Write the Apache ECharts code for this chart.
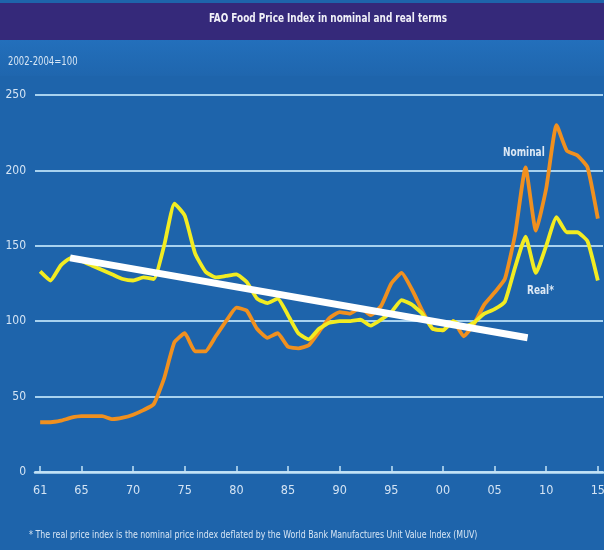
<!DOCTYPE html>
<html><head><meta charset="utf-8">
<script src="https://cdn.jsdelivr.net/npm/echarts@6/dist/echarts.min.js"></script>
<style>html,body{margin:0;padding:0;background:#ffffff}#c{width:608px;height:557px}</style>
</head><body><div id="c"></div>
<script>
const years = [1961,1962,1963,1964,1965,1966,1967,1968,1969,1970,1971,1972,1973,1974,1975,1976,1977,1978,1979,1980,
1981,1982,1983,1984,1985,1986,1987,1988,1989,1990,1991,1992,1993,1994,1995,1996,1997,1998,1999,2000,
2001,2002,2003,2004,2005,2006,2007,2008,2009,2010,2011,2012,2013,2014,2015];
const nominal = [33,33,34,36,37,37,37,35,36,38,41,45,62,86,92,80,80,90,100,109,
107,95,89,92,83,82,84,93,102,106,105,109,104,110,125,132,121,107,95,94,
100,90,98,111,119,128,158,202,160,188,230,213,210,202,168];
const real = [133,127,137,142,140,137,134,131,128,127,129,128,150,178,170,145,133,129,130,131,
126,115,112,115,104,92,88,95,99,100,100,101,97,101,106,114,111,105,95,94,
100,96,99,105,108,113,136,156,132,150,169,159,159,153,127];
const trendX = [1963.9, 2008.2];
const trendY = [142, 89];
const tickYears = [1961,1965,1970,1975,1980,1985,1990,1995,2000,2005,2010,2015];
const tickLabels = ['61','65','70','75','80','85','90','95','00','05','10','15'];

const FONT = '"DejaVu Sans Condensed", "Liberation Sans Narrow", sans-serif';
const chart = echarts.init(document.getElementById('c'), null, {renderer:'canvas'});
const pair = (xs, ys) => xs.map((x,i)=>[x, ys[i]]);
function label(text, x, y, font, sx, align, fill){
  return {type:'text', x:x, y:y, scaleX:sx, z:20,
    style:{text:text, x:0, y:0, align:align, verticalAlign:'middle', fill:fill||'#d6e5f4', font:font}};
}

chart.setOption({
  animation:false,
  backgroundColor:'#ffffff',
  graphic:[
    {type:'rect', z:-10, shape:{x:0,y:0,width:604,height:550}, style:{fill:'#1e64ab'}},
    {type:'rect', z:-9, shape:{x:0,y:3,width:604,height:37}, style:{fill:'#35297a'}},
    {type:'rect', z:-9, shape:{x:0,y:40,width:604,height:36}, style:{fill:new echarts.graphic.LinearGradient(0,0,0,1,[{offset:0,color:'#236fbb'},{offset:1,color:'#1f66ae'}])}},
    label('FAO Food Price Index in nominal and real terms', 328, 19, 'bold 13px '+FONT, 0.76, 'center', '#f0f0f8'),
    label('2002-2004=100', 8, 62, '11.5px '+FONT, 0.82, 'left'),
    label('Nominal', 503, 153, 'bold 12.5px '+FONT, 0.8, 'left', '#dce8f4'),
    label('Real*', 527, 291, 'bold 12.5px '+FONT, 0.8, 'left', '#dce8f4'),
    label('* The real price index is the nominal price index deflated by the World Bank Manufactures Unit Value Index (MUV)', 29, 535, '10px '+FONT, 0.875, 'left')
  ],
  grid:{left:35, right:5, top:95, bottom:85, containLabel:false},
  xAxis:{
    type:'value', min:1960.5, max:2015.5,
    axisLine:{show:true, lineStyle:{color:'#c2e2f6', width:2.5}},
    axisTick:{show:true, inside:true, length:6, customValues:tickYears, lineStyle:{color:'#c2e2f6', width:1.5}},
    axisLabel:{customValues:tickYears, formatter:v=>tickLabels[tickYears.indexOf(v)], color:'#d4e4f4', fontFamily:FONT, fontSize:12.5, margin:12},
    splitLine:{show:false}
  },
  yAxis:{
    type:'value', min:0, max:250, interval:50,
    axisLine:{show:false}, axisTick:{show:false},
    axisLabel:{color:'#d4e4f4', fontFamily:FONT, fontSize:12, margin:9},
    splitLine:{lineStyle:{color:'#a8d2ef', width:2}}
  },
  series:[
    {name:'Nominal', type:'line', data:pair(years,nominal), symbol:'none', smooth:0.15, lineStyle:{color:'#f0901f', width:3.8}, z:3},
    {name:'Real', type:'line', data:pair(years,real), symbol:'none', smooth:0.15, lineStyle:{color:'#f2ec22', width:3.8}, z:4},
    {name:'Trend', type:'line', data:pair(trendX,trendY), symbol:'none', lineStyle:{color:'#ffffff', width:7}, z:5}
  ]
});
</script>
</body></html>
